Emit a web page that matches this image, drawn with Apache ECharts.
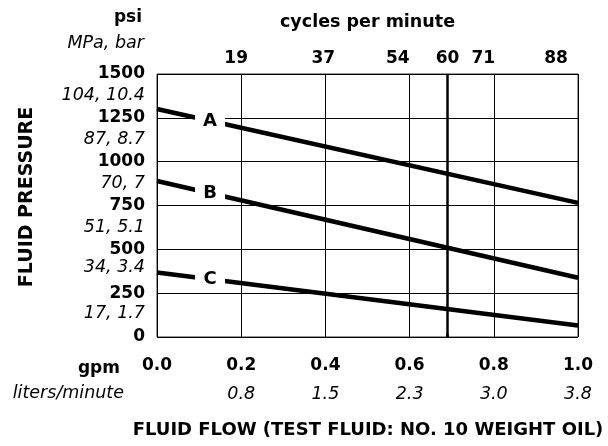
<!DOCTYPE html>
<html>
<head>
<meta charset="utf-8">
<script src="https://cdn.jsdelivr.net/npm/echarts@6/dist/echarts.min.js"></script>
<style>html,body{margin:0;padding:0;background:#fff}#c{width:608px;height:446px}</style>
</head>
<body>
<div id="c"></div>
<script>
// ---- data ----
const gpmValues = [0, 0.2, 0.4, 0.6, 0.8, 1.0];
const gpmLabels = ['0.0', '0.2', '0.4', '0.6', '0.8', '1.0'];
const lpmLabels = ['', '0.8', '1.5', '2.3', '3.0', '3.8'];
const cpmLabelPos = [0.188, 0.395, 0.572, 0.69, 0.775, 0.948];
const cpmLabels = ['19', '37', '54', '60', '71', '88'];
const metricValues = [135, 395, 625, 875, 1125, 1375];
const metricLabels = ['17, 1.7', '34, 3.4', '51, 5.1', '70, 7', '87, 8.7', '104, 10.4'];
const flowX = [0, 1.0];
const curveA = [1300, 765];
const curveB = [890, 338];
const curveC = [368, 66];
const curveNames = ['A', 'B', 'C'];
const ratedFlow = 0.69;
const labelFlow = 0.126;

const FONT = 'DejaVu Sans';
const chart = echarts.init(document.getElementById('c'), null, {renderer: 'canvas'});

const curves = [curveA, curveB, curveC];
const series = curves.map((vals, k) => {
  const pts = flowX.map((x, i) => [x, vals[i]]);
  const ly = vals[0] + (vals[1] - vals[0]) * (labelFlow - flowX[0]) / (flowX[1] - flowX[0]);
  const s = {
    type: 'line',
    name: curveNames[k],
    data: pts,
    symbol: 'none',
    silent: true,
    animation: false,
    lineStyle: {color: '#000', width: 4.5},
    markPoint: {
      silent: true,
      animation: false,
      symbol: 'rect',
      symbolSize: [30, 17],
      itemStyle: {color: '#fff'},
      label: {show: true, position: 'inside', formatter: curveNames[k], color: '#000',
               fontFamily: FONT, fontWeight: 'bold', fontSize: 18},
      data: [{coord: [labelFlow, ly]}]
    }
  };
  if (k === 0) {
    s.markLine = {
      silent: true, animation: false, symbol: 'none',
      label: {show: false},
      lineStyle: {color: '#000', width: 2.5, type: 'solid'},
      data: [{xAxis: ratedFlow}]
    };
  }
  return s;
});

const idxOf = (arr, v) => arr.findIndex(a => Math.abs(a - v) < 1e-6);

chart.setOption({
  animation: false,
  backgroundColor: '#fff',
  grid: {left: 157, right: 30, top: 74, bottom: 109, show: true, borderColor: '#333', borderWidth: 1},
  xAxis: [
    {
      type: 'value', position: 'bottom', min: 0, max: 1, interval: 0.2,
      axisLine: {show: false}, axisTick: {show: false},
      splitLine: {show: true, lineStyle: {color: '#000', width: 1}},
      axisLabel: {
        margin: 15,
        formatter: v => {
          const i = idxOf(gpmValues, v);
          if (i < 0) return '';
          return '{b|' + gpmLabels[i] + '}\n{i|' + (lpmLabels[i] || ' ') + '}';
        },
        rich: {
          b: {fontFamily: FONT, fontWeight: 'bold', fontSize: 17, color: '#000', lineHeight: 28},
          i: {fontFamily: FONT, fontStyle: 'italic', fontSize: 17.5, color: '#000', lineHeight: 28}
        }
      }
    },
    {
      type: 'value', position: 'top', min: 0, max: 1,
      axisLine: {show: false},
      splitLine: {show: false},
      axisTick: {show: true, customValues: [ratedFlow], length: 3, inside: false,
                 lineStyle: {color: '#000', width: 2.5}},
      axisLabel: {
        margin: 7,
        customValues: cpmLabelPos,
        formatter: v => { const i = idxOf(cpmLabelPos, v); return i < 0 ? '' : cpmLabels[i]; },
        fontFamily: FONT, fontWeight: 'bold', fontSize: 17, color: '#000'
      },
      name: 'cycles per minute', nameLocation: 'middle', nameGap: 43,
      nameTextStyle: {fontFamily: FONT, fontWeight: 'bold', fontSize: 17.5, color: '#000'}
    }
  ],
  yAxis: [
    {
      type: 'value', position: 'left', min: 0, max: 1500, interval: 250,
      axisLine: {show: false}, axisTick: {show: false},
      splitLine: {show: true, lineStyle: {color: '#000', width: 1}},
      axisLabel: {margin: 12, formatter: v => String(v), fontFamily: FONT, fontWeight: 'bold', fontSize: 17, color: '#000'}
    },
    {
      type: 'value', position: 'left', min: 0, max: 1500,
      axisLine: {show: false}, axisTick: {show: false}, splitLine: {show: false},
      axisLabel: {
        margin: 12, customValues: metricValues,
        formatter: v => { const i = idxOf(metricValues, v); return i < 0 ? '' : metricLabels[i]; },
        fontFamily: FONT, fontStyle: 'italic', fontSize: 17.5, color: '#000'
      }
    }
  ],
  series: series,
  graphic: [
    {type: 'text', x: 142, y: 18, style: {text: 'psi', align: 'right', verticalAlign: 'middle',
      font: 'bold 17px "DejaVu Sans"', fill: '#000'}},
    {type: 'text', x: 144, y: 43, style: {text: 'MPa, bar', align: 'right', verticalAlign: 'middle',
      font: 'italic 17.5px "DejaVu Sans"', fill: '#000'}},
    {type: 'text', x: 27, y: 197, rotation: Math.PI / 2, style: {text: 'FLUID PRESSURE', align: 'center', verticalAlign: 'middle',
      font: 'bold 19px "DejaVu Sans"', fill: '#000'}},
    {type: 'text', x: 120, y: 369, style: {text: 'gpm', align: 'right', verticalAlign: 'middle',
      font: 'bold 17px "DejaVu Sans"', fill: '#000'}},
    {type: 'text', x: 124, y: 393, style: {text: 'liters/minute', align: 'right', verticalAlign: 'middle',
      font: 'italic 17.5px "DejaVu Sans"', fill: '#000'}},
    {type: 'text', x: 368, y: 430, style: {text: 'FLUID FLOW (TEST FLUID: NO. 10 WEIGHT OIL)', align: 'center', verticalAlign: 'middle',
      font: 'bold 18px "DejaVu Sans"', fill: '#000'}}
  ]
});
</script>
</body>
</html>
